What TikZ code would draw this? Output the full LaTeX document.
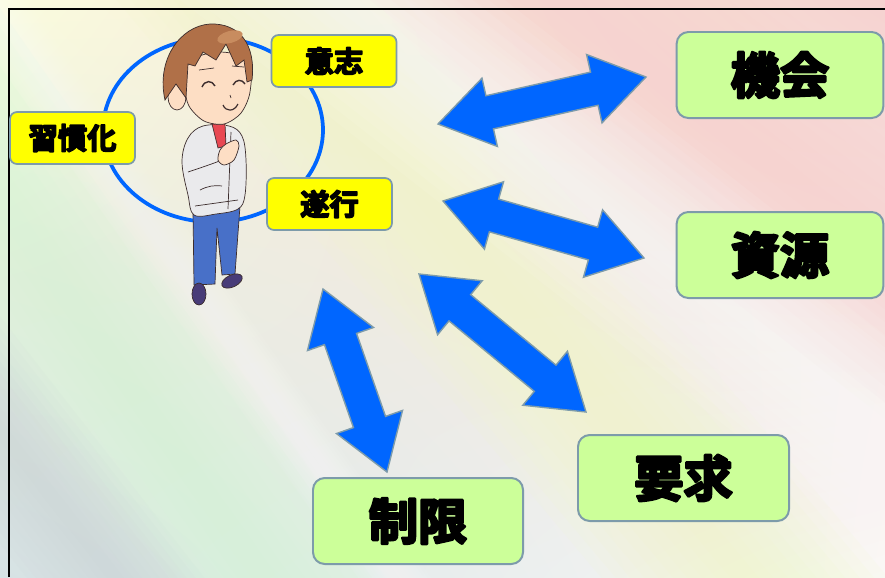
\documentclass[tikz,border=0pt]{standalone}
\usepackage{fontspec}
\usepackage{tikz}
\usetikzlibrary{calc,shadings}
\newfontfamily\jpfont{Noto Sans CJK JP Bold}

% heavier glyphs: fill and stroke the outline
\newcommand{\heavy}[2][2.2]{%
  \special{pdf:literal direct 2 Tr #1 w 0 J 1 j}#2\special{pdf:literal direct 0 Tr}}

\definecolor{arrowblue}{RGB}{0,102,255}
\definecolor{edgegray}{RGB}{125,155,170}
\definecolor{tagyellow}{RGB}{255,255,0}
\definecolor{boxgreen}{RGB}{204,255,153}
\definecolor{bgyellow}{RGB}{250,252,222}
\definecolor{bgpink}{RGB}{246,210,208}
\definecolor{bggray}{RGB}{214,226,228}
\definecolor{bgwhite}{RGB}{250,248,246}
\definecolor{bgmint}{RGB}{215,248,215}
\definecolor{bglime}{RGB}{240,250,200}
\definecolor{bgstreak}{RGB}{200,210,212}
\definecolor{inkline}{RGB}{60,45,45}
\definecolor{skin}{RGB}{253,222,196}
\definecolor{hairbrown}{RGB}{176,112,72}
\definecolor{hairlight}{RGB}{200,140,95}
\definecolor{jacketgray}{RGB}{234,234,236}
\definecolor{tiered}{RGB}{232,72,82}
\definecolor{pantsblue}{RGB}{72,112,200}
\definecolor{shoepurple}{RGB}{72,60,120}

\tikzstyle{tagbox} = [draw=edgegray, fill=tagyellow, line width=1.5pt, rounded corners=6pt, minimum width=3.75cm, minimum height=1.56cm, font=\jpfont\fontsize{25}{25}\selectfont]
\tikzstyle{itembox} = [draw=edgegray, fill=boxgreen, line width=1.7pt, rounded corners=10pt, minimum width=6.2cm, minimum height=2.58cm, font=\jpfont\fontsize{42}{42}\selectfont]
\tikzstyle{blockarrow} = [fill=arrowblue, draw=edgegray, line width=1.2pt, line join=miter]
\tikzstyle{outline} = [draw=inkline, line width=0.6pt]

% double headed block arrow between two tips: #1, #2, name #3
\newcommand{\dblarrow}[3]{%
  \coordinate (#3-a) at ($(#1)!1.59cm!(#2)$);
  \coordinate (#3-b) at ($(#2)!1.59cm!(#1)$);
  \draw[blockarrow] (#1) -- ($(#3-a)!1.05cm!90:(#2)$) -- ($(#3-a)!0.51cm!90:(#2)$)
    -- ($(#3-b)!0.51cm!-90:(#1)$) -- ($(#3-b)!1.05cm!-90:(#1)$) -- (#2)
    -- ($(#3-b)!1.05cm!90:(#1)$) -- ($(#3-b)!0.51cm!90:(#1)$)
    -- ($(#3-a)!0.51cm!-90:(#2)$) -- ($(#3-a)!1.05cm!-90:(#2)$) -- cycle;}

% soft diagonal streak through point #1 at angle #2, half width #3
\newcommand{\bgband}[5]{%
  \foreach \w in {0.1,0.2,...,1.0}
    \fill[#4, opacity=#5] ($(#1)+(#2+180:1300)+(#2+90:#3*\w)$) -- ($(#1)+(#2:1300)+(#2+90:#3*\w)$)
      -- ($(#1)+(#2:1300)+(#2-90:#3*\w)$) -- ($(#1)+(#2+180:1300)+(#2-90:#3*\w)$) -- cycle;}

\begin{document}
\begin{tikzpicture}[x=0.03cm, y=-0.03cm]
        \useasboundingbox (0,0) rectangle (885,577);
        \clip (0,0) rectangle (885,577);

        % background
        \shade[upper left=bgyellow, upper right=bgpink, lower left=bggray, lower right=bgwhite] (0,0) rectangle (885,577);
        \bgband{0,200}{55}{110}{bgmint}{0.1}
        \bgband{260,0}{50}{110}{bglime}{0.1}
        \bgband{560,0}{38}{130}{bgpink}{0.1}
        \bgband{880,420}{38}{100}{white}{0.08}
        \bgband{0,430}{52}{70}{bgstreak}{0.07}
        \bgband{60,100}{55}{30}{white}{0.06}
        \draw[black, line width=1.6pt] (9,577) -- (9,9) -- (885,9);

        % ring
        \draw[arrowblue, line width=3.2pt] (213,130) ellipse [x radius=110, y radius=92];

        % person
        \fill[white] (194,280) rectangle (205,288);
        \filldraw[fill=pantsblue, outline] (193,210) -- (240,206) -- (235,274) -- (222,275) -- (217,228) -- (215,284) -- (194,285) -- cycle;
        \filldraw[fill=shoepurple, outline] (199,294) ellipse [x radius=7, y radius=11];
        \filldraw[fill=shoepurple, outline, rotate around={25:(232,281)}] (232,281) ellipse [x radius=11, y radius=6];
        \filldraw[fill=jacketgray, outline] plot[smooth cycle, tension=0.6] coordinates {(203,126) (188,138) (182,162) (188,195) (194,215) (216,214) (238,209) (245,195) (246,160) (242,136) (229,126)};
        \draw[outline] (188,172) .. controls (200,168) and (212,164) .. (222,160);
        \draw[outline] (195,206) -- (238,200);
        \draw[outline] (231,132) -- (228,209);
        \draw[outline] (200,190) .. controls (208,186) and (214,185) .. (222,186);
        \fill[skin] (213,112) rectangle (226,127);
        \filldraw[fill=tiered, outline] (212,124) -- (225,124) -- (226,146) -- (218,148) -- cycle;
        \filldraw[fill=skin, outline] plot[smooth cycle] coordinates {(220,150) (226,144) (236,140) (239,146) (234,160) (224,165) (218,160)};
        \filldraw[fill=skin, outline] (177,97) ellipse [x radius=9, y radius=13];
        \filldraw[fill=skin, outline] plot[smooth cycle] coordinates {(186,62) (218,52) (249,60) (250,92) (241,113) (224,124) (204,121) (189,106) (184,84)};
        \filldraw[fill=hairbrown, outline] (165,100) .. controls (156,60) and (180,26) .. (210,24) .. controls (240,23) and (256,45) .. (252,80)
            -- (247,82) -- (244,60) -- (236,66) -- (226,44) -- (216,60) -- (203,52) -- (195,66) -- (188,64) -- (186,98) -- (176,84) -- cycle;
        \fill[hairlight, rotate around={15:(230,37)}] (230,37) ellipse [x radius=13, y radius=6];
        \draw[outline] (199,70) -- (214,68) (232,66) -- (244,67);
        \draw[inkline, line width=1.2pt] (202,87) .. controls (205,80) and (212,80) .. (215,86);
        \draw[inkline, line width=1.2pt] (233,85) .. controls (236,79) and (242,79) .. (245,84);
        \draw[inkline, line width=1pt] (223,105) .. controls (226,112) and (234,112) .. (238,104);
        \draw[inkline, line width=0.6pt] (230,95) -- (231,98);

        % labels round the ring
        \node[tagbox] (ishi) at (334,61) {\heavy[1.3]{意志}};
        \node[tagbox] (shuukan) at (72.5,138) {\heavy[1.3]{習慣化}};
        \node[tagbox] (suikou) at (329.5,204) {\heavy[1.3]{遂行}};

        % outer factors
        \node[itembox] (kikai) at (780,75) {\heavy{機会}};
        \node[itembox] (shigen) at (780,255) {\heavy{資源}};
        \node[itembox, minimum width=6.33cm] (youkyuu) at (683.5,478) {\heavy{要求}};
        \node[itembox, minimum width=6.3cm] (seigen) at (418,521) {\heavy{制限}};

        \coordinate (ak1) at (438,124);
        \coordinate (ak2) at (646,77);
        \coordinate (as1) at (443,201);
        \coordinate (as2) at (644,258);
        \coordinate (ay1) at (419,274);
        \coordinate (ay2) at (586,412);
        \coordinate (ase1) at (323,289);
        \coordinate (ase2) at (387,472);
        \dblarrow{ak1}{ak2}{kikaiarrow}
        \dblarrow{as1}{as2}{shigenarrow}
        \dblarrow{ay1}{ay2}{youkyuuarrow}
        \dblarrow{ase1}{ase2}{seigenarrow}
\end{tikzpicture}
\end{document}
